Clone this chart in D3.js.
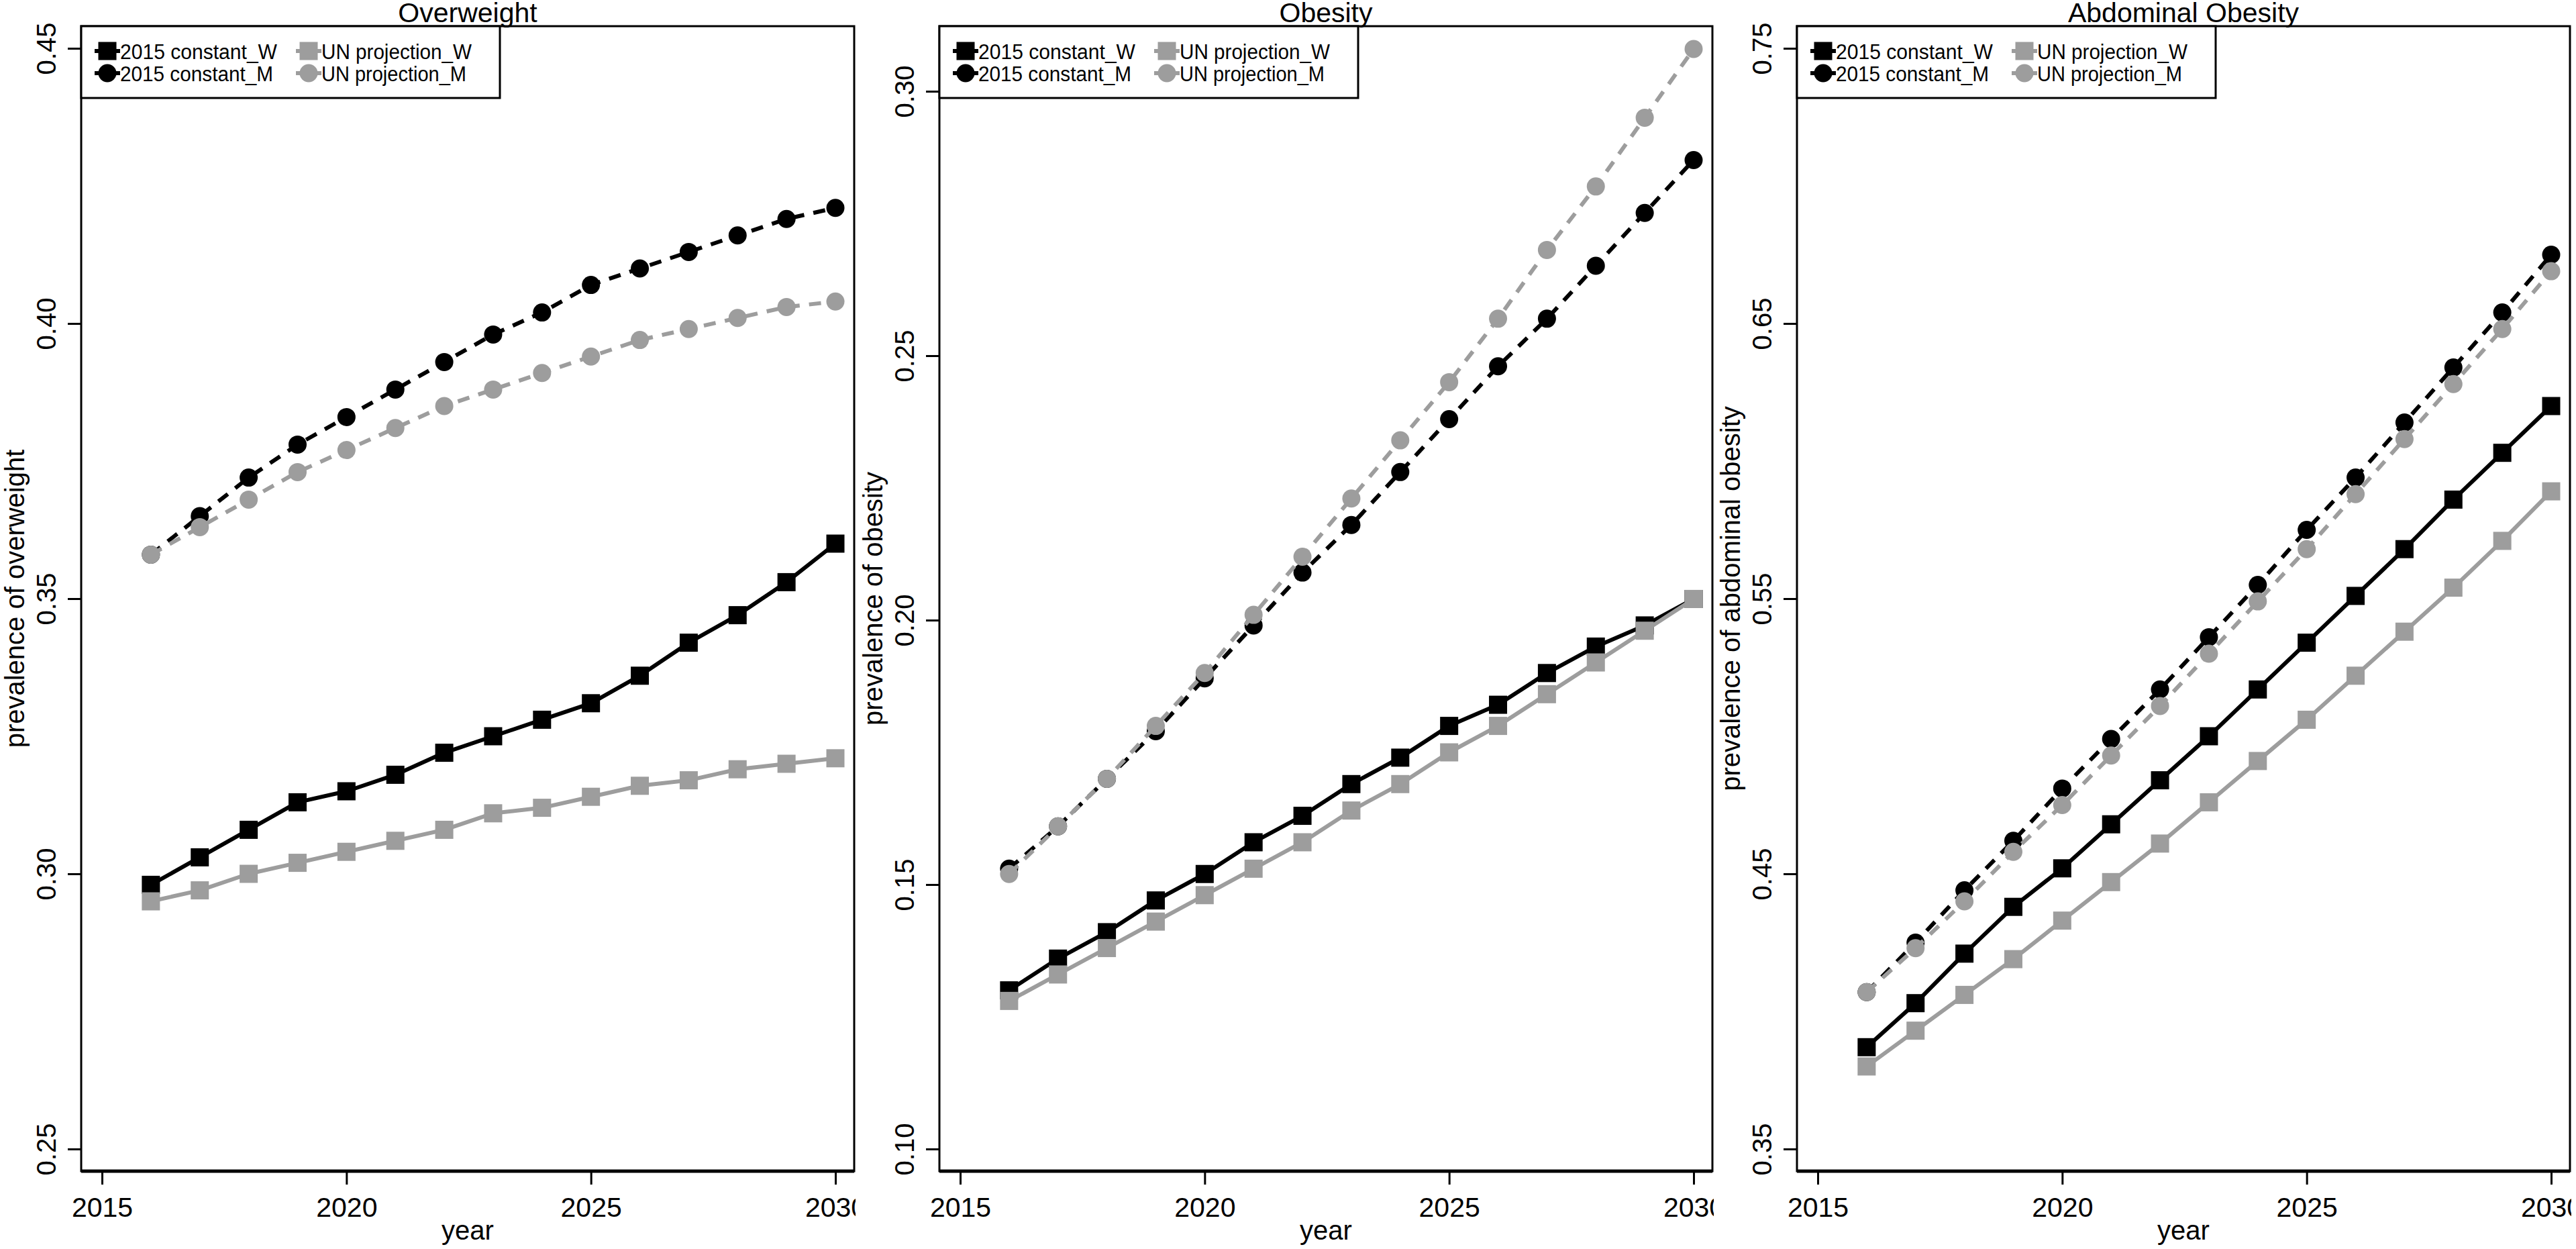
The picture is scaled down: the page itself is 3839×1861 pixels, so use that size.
<!DOCTYPE html>
<html><head><meta charset="utf-8">
<script src="https://cdn.jsdelivr.net/npm/d3@7/dist/d3.min.js"></script>
<style>
body{margin:0;background:#fff}
svg{display:block}
text{font-family:Arial,"Liberation Sans",sans-serif;fill:#000}
</style>
</head><body>
<script>
// ---------- data ----------
const years = [2016,2017,2018,2019,2020,2021,2022,2023,2024,2025,2026,2027,2028,2029,2030];
const xTicks = [2015,2020,2025,2030];
const seriesNames = ["2015 constant_W","UN projection_W","2015 constant_M","UN projection_M"];
const panelTitles = ["Overweight","Obesity","Abdominal Obesity"];
const yAxisLabels = ["prevalence of overweight","prevalence of obesity","prevalence of abdominal obesity"];

const overweightConstW = [0.298,0.303,0.308,0.313,0.315,0.318,0.322,0.325,0.328,0.331,0.336,0.342,0.347,0.353,0.360];
const overweightUNW    = [0.295,0.297,0.300,0.302,0.304,0.306,0.308,0.311,0.312,0.314,0.316,0.317,0.319,0.320,0.321];
const overweightConstM = [0.358,0.365,0.372,0.378,0.383,0.388,0.393,0.398,0.402,0.407,0.410,0.413,0.416,0.419,0.421];
const overweightUNM    = [0.358,0.363,0.368,0.373,0.377,0.381,0.385,0.388,0.391,0.394,0.397,0.399,0.401,0.403,0.404];
const overweightTicks  = [0.25,0.30,0.35,0.40,0.45];

const obesityConstW = [0.130,0.136,0.141,0.147,0.152,0.158,0.163,0.169,0.174,0.180,0.184,0.190,0.195,0.199,0.204];
const obesityUNW    = [0.128,0.133,0.138,0.143,0.148,0.153,0.158,0.164,0.169,0.175,0.180,0.186,0.192,0.198,0.204];
const obesityConstM = [0.153,0.161,0.170,0.179,0.189,0.199,0.209,0.218,0.228,0.238,0.248,0.257,0.267,0.277,0.287];
const obesityUNM    = [0.152,0.161,0.170,0.180,0.190,0.201,0.212,0.223,0.234,0.245,0.257,0.270,0.282,0.295,0.308];
const obesityTicks  = [0.10,0.15,0.20,0.25,0.30];

const abdominalConstW = [0.387,0.403,0.421,0.438,0.452,0.468,0.484,0.500,0.517,0.534,0.551,0.568,0.586,0.603,0.620];
const abdominalUNW    = [0.380,0.393,0.406,0.419,0.433,0.447,0.461,0.476,0.491,0.506,0.522,0.538,0.554,0.571,0.589];
const abdominalConstM = [0.407,0.425,0.444,0.462,0.481,0.499,0.517,0.536,0.555,0.575,0.594,0.614,0.634,0.654,0.675];
const abdominalUNM    = [0.407,0.423,0.440,0.458,0.475,0.493,0.511,0.530,0.549,0.568,0.588,0.608,0.628,0.648,0.669];
const abdominalTicks  = [0.35,0.45,0.55,0.65,0.75];

// ---------- styles / layout ----------
const GRAY = "#9d9d9d";
const seriesStyles = [
  {color:"#000", shape:"square", dash:null},
  {color:GRAY,   shape:"square", dash:null},
  {color:"#000", shape:"circle", dash:"18,14"},
  {color:GRAY,   shape:"circle", dash:"18,14"}
];
const legendTextWidths = [234, 224, 228, 216];
const panels = [
  {left:121,  ticks:overweightTicks, tickFmt:d3.format(".2f"), topTickY:72,  values:[overweightConstW,overweightUNW,overweightConstM,overweightUNM]},
  {left:1400, ticks:obesityTicks,    tickFmt:d3.format(".2f"), topTickY:136, values:[obesityConstW,obesityUNW,obesityConstM,obesityUNM]},
  {left:2678, ticks:abdominalTicks,  tickFmt:d3.format(".2f"), topTickY:72,  values:[abdominalConstW,abdominalUNW,abdominalConstM,abdominalUNM]}
];
const W = 3839, H = 1861;
const TOP = 39, BOTTOM = 1745, PW = 1152, BOTTOM_TICK_Y = 1712;
const SQ = 27, CR = 13.5;
const FONT = 'Arial,"Liberation Sans",sans-serif';

const svg = d3.select("body").append("svg").attr("width", W).attr("height", H);
svg.append("rect").attr("width", W).attr("height", H).attr("fill", "#fff");
const defs = svg.append("defs");

function drawMarker(g, shape, color, cx, cy) {
  if (shape === "square") {
    g.append("rect").attr("x", cx - SQ/2).attr("y", cy - SQ/2).attr("width", SQ).attr("height", SQ).attr("fill", color);
  } else {
    g.append("circle").attr("cx", cx).attr("cy", cy).attr("r", CR).attr("fill", color);
  }
}

panels.forEach((p, i) => {
  const L = p.left;
  const cid = "clip" + i;
  defs.append("clipPath").attr("id", cid).append("rect")
    .attr("x", L - 121).attr("y", 0).attr("width", 121 + PW + 2).attr("height", H);
  const g = svg.append("g").attr("clip-path", `url(#${cid})`);

  const x = d3.scaleLinear().domain([2015, 2030]).range([L + 31, L + 1124]);
  const y = d3.scaleLinear().domain([p.ticks[0], p.ticks[p.ticks.length - 1]]).range([BOTTOM_TICK_Y, p.topTickY]);

  // series
  p.values.forEach((vals, si) => {
    const st = seriesStyles[si];
    const pts = years.map((yr, k) => [yr, vals[k]]);
    const line = d3.line().x(d => x(d[0])).y(d => y(d[1]));
    g.append("path").datum(pts).attr("d", line)
      .attr("fill", "none").attr("stroke", st.color).attr("stroke-width", 6)
      .attr("stroke-dasharray", st.dash).attr("stroke-linejoin", "round");
    const mg = g.append("g");
    pts.forEach(d => drawMarker(mg, st.shape, st.color, x(d[0]), y(d[1])));
  });

  // box
  g.append("rect").attr("x", L).attr("y", TOP).attr("width", PW).attr("height", BOTTOM - TOP)
    .attr("fill", "none").attr("stroke", "#000").attr("stroke-width", 3);
  g.append("line").attr("x1", L).attr("x2", L + PW).attr("y1", BOTTOM).attr("y2", BOTTOM)
    .attr("stroke", "#000").attr("stroke-width", 5);

  // x axis
  const xa = g.append("g").attr("transform", `translate(0,${BOTTOM})`)
    .call(d3.axisBottom(x).tickValues(xTicks).tickFormat(d3.format("d")).tickSize(20).tickPadding(19));
  xa.select(".domain").remove();
  xa.selectAll("line").attr("stroke", "#000").attr("stroke-width", 3);
  xa.selectAll("text").attr("font-size", 41).attr("fill", "#000").style("font-family", FONT);

  // y axis
  const ya = g.append("g").attr("transform", `translate(${L},0)`)
    .call(d3.axisLeft(y).tickValues(p.ticks).tickFormat(p.tickFmt).tickSize(20));
  ya.select(".domain").remove();
  ya.selectAll("line").attr("stroke", "#000").attr("stroke-width", 3);
  ya.selectAll("text").attr("x", null).attr("dy", null)
    .attr("transform", "translate(-38,0) rotate(-90)")
    .attr("text-anchor", "middle").attr("font-size", 40).attr("fill", "#000").style("font-family", FONT);

  // titles and labels
  const cx = L + PW / 2;
  g.append("text").attr("x", cx).attr("y", 33).attr("text-anchor", "middle")
    .attr("font-size", 41).text(panelTitles[i]);
  g.append("text").attr("x", cx).attr("y", 1847).attr("text-anchor", "middle")
    .attr("font-size", 40).text("year");
  g.append("text").attr("transform", `translate(${L - 85},${(TOP + BOTTOM) / 2}) rotate(-90)`)
    .attr("text-anchor", "middle").attr("font-size", 40).text(yAxisLabels[i]);

  // legend
  const lg = g.append("g");
  lg.append("rect").attr("x", L).attr("y", TOP).attr("width", 624).attr("height", 107)
    .attr("fill", "#fff").attr("stroke", "#000").attr("stroke-width", 3);
  const colX = [L + 39, L + 339];
  const rowY = [76, 109];
  seriesNames.forEach((name, si) => {
    const st = seriesStyles[si];
    const col = si % 2, row = Math.floor(si / 2);
    const sx = colX[col], sy = rowY[row];
    lg.append("line").attr("x1", sx - 19).attr("x2", sx + 19).attr("y1", sy).attr("y2", sy)
      .attr("stroke", st.color).attr("stroke-width", 6);
    drawMarker(lg, st.shape, st.color, sx, sy);
    lg.append("text").attr("x", sx + 19).attr("y", sy + 12).attr("font-size", 31)
      .attr("textLength", legendTextWidths[si]).attr("lengthAdjust", "spacingAndGlyphs")
      .text(name);
  });
});
</script>
</body></html>
